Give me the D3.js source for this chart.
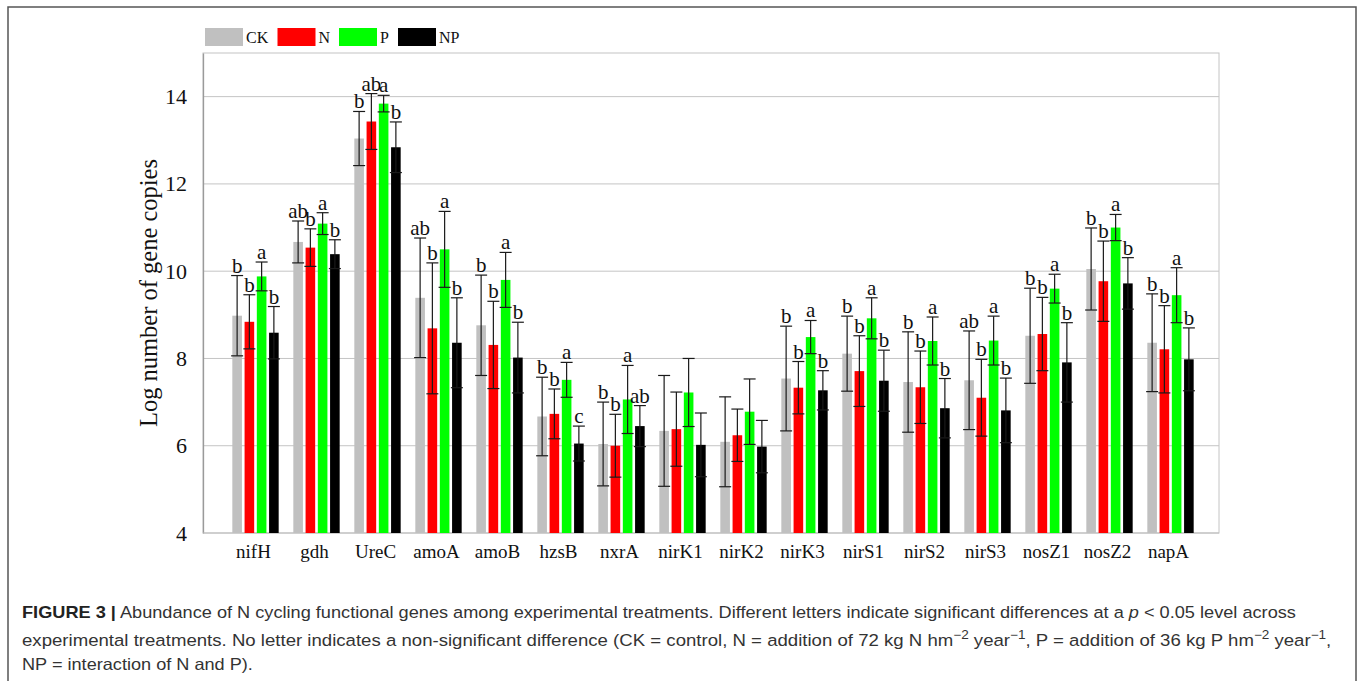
<!DOCTYPE html>
<html>
<head>
<meta charset="utf-8">
<script src="https://cdn.jsdelivr.net/npm/d3@7/dist/d3.min.js"></script>
<style>
  html, body { margin: 0; padding: 0; background: #fff; }
  svg { display: block; }
</style>
</head>
<body>
<svg id="fig" width="1360" height="681"></svg>
<script>
// Gene targets along the x axis
const genes = ["nifH", "gdh", "UreC", "amoA", "amoB", "hzsB", "nxrA", "nirK1", "nirK2",
               "nirK3", "nirS1", "nirS2", "nirS3", "nosZ1", "nosZ2", "napA"];
const treatments = ["CK", "N", "P", "NP"];
const treatmentColors = ["#c0c0c0", "#ff0000", "#00ff00", "#000000"];

// Mean log gene copies per treatment
const meanCK = [8.98, 10.67, 13.04, 9.39, 8.76, 6.67, 6.04, 6.34, 6.09, 7.54, 8.11, 7.46, 7.50, 8.52, 10.05, 8.36];
const meanN  = [8.84, 10.54, 13.43, 8.69, 8.31, 6.73, 6.00, 6.38, 6.24, 7.33, 7.71, 7.34, 7.10, 8.56, 9.77, 8.21];
const meanP  = [9.88, 11.09, 13.84, 10.50, 9.80, 7.51, 7.06, 7.22, 6.78, 8.49, 8.92, 8.40, 8.41, 9.60, 11.00, 9.45];
const meanNP = [8.59, 10.39, 12.84, 8.36, 8.02, 6.05, 6.45, 6.02, 5.98, 7.27, 7.49, 6.86, 6.81, 7.91, 9.72, 7.98];

// Standard deviations (error bars)
const sdCK = [0.92, 0.48, 0.62, 1.37, 1.15, 0.90, 0.96, 1.27, 1.03, 1.20, 0.86, 1.15, 1.13, 1.09, 0.94, 1.12];
const sdN  = [0.62, 0.43, 0.64, 1.50, 1.00, 0.57, 0.72, 0.85, 0.60, 0.60, 0.81, 0.83, 0.88, 0.84, 0.92, 1.00];
const sdP  = [0.33, 0.25, 0.19, 0.87, 0.63, 0.40, 0.78, 0.78, 0.75, 0.38, 0.47, 0.55, 0.56, 0.33, 0.30, 0.63];
const sdNP = [0.60, 0.33, 0.58, 1.03, 0.81, 0.40, 0.47, 0.73, 0.60, 0.45, 0.70, 0.68, 0.74, 0.91, 0.59, 0.72];

// Significance letters (empty = not significant)
const letCK = ["b", "ab", "b", "ab", "b", "b", "b", "", "", "b", "b", "b", "ab", "b", "b", "b"];
const letN  = ["b", "b", "ab", "b", "b", "b", "b", "", "", "b", "b", "b", "b", "b", "b", "b"];
const letP  = ["a", "a", "a", "a", "a", "a", "a", "", "", "a", "a", "a", "a", "a", "a", "a"];
const letNP = ["b", "b", "b", "b", "b", "c", "ab", "", "", "b", "b", "b", "b", "b", "b", "b"];

const yTicks = [4, 6, 8, 10, 12, 14];

const means = [meanCK, meanN, meanP, meanNP];
const sds = [sdCK, sdN, sdP, sdNP];
const letters = [letCK, letN, letP, letNP];

const svg = d3.select("#fig");
const serif = "'Liberation Serif', 'Times New Roman', serif";
const sans = "'Liberation Sans', Arial, sans-serif";

// Outer figure frame
svg.append("path")
  .attr("d", "M8,681 V7 H1356 V681")
  .attr("fill", "none").attr("stroke", "#555").attr("stroke-width", 1.5);

// Plot area
const plot = { left: 203, right: 1219, top: 53, bottom: 533 };

const y = d3.scaleLinear().domain([4, 15]).range([plot.bottom, plot.top]);
const x = d3.scaleBand().domain(genes).range([225, 1201]).paddingInner(0).paddingOuter(0);
const stride = 12.25, barW = 9.6;
const xSub = d3.scaleBand().domain(treatments)
  .range([-stride * 2, stride * 2]).paddingInner(0);

// Grid lines
svg.append("g").selectAll("line").data(yTicks.filter(t => t > 4))
  .join("line")
  .attr("x1", plot.left).attr("x2", plot.right)
  .attr("y1", d => y(d)).attr("y2", d => y(d))
  .attr("stroke", "#c4c4c4").attr("stroke-width", 1);

// Plot border
svg.append("rect")
  .attr("x", plot.left).attr("y", plot.top)
  .attr("width", plot.right - plot.left).attr("height", plot.bottom - plot.top)
  .attr("fill", "none").attr("stroke", "#c4c4c4").attr("stroke-width", 1);

// Y axis
const yAxis = d3.axisLeft(y).tickValues(yTicks).tickSize(0).tickPadding(16);
const gy = svg.append("g").attr("transform", `translate(${plot.left},0)`).call(yAxis);
gy.select(".domain").attr("stroke", "#9a9a9a").attr("stroke-width", 1.3);
gy.selectAll("text").attr("font-family", serif).attr("font-size", 22).attr("fill", "#111");

// X axis labels
const xAxis = d3.axisBottom(x).tickSize(0).tickPadding(12);
const gx = svg.append("g").attr("transform", `translate(-2,${plot.bottom})`).call(xAxis);
gx.select(".domain").attr("stroke", "#bdbdbd").attr("d", `M${plot.left + 2},0H${plot.right + 2}`);
gx.selectAll("text").attr("font-family", serif).attr("font-size", 19).attr("fill", "#111");

// Axis title
svg.append("text")
  .attr("transform", `translate(157,${(plot.top + plot.bottom) / 2}) rotate(-90)`)
  .attr("text-anchor", "middle")
  .attr("font-family", serif).attr("font-size", 24.5).attr("fill", "#111")
  .text("Log number of gene copies");

// Flatten records
const records = [];
genes.forEach((g, gi) => {
  treatments.forEach((t, ti) => {
    records.push({ gene: g, t, ti, mean: means[ti][gi], sd: sds[ti][gi], letter: letters[ti][gi] });
  });
});
const cx = d => x(d.gene) + x.bandwidth() / 2 + xSub(d.t) + stride / 2;

// Bars
svg.append("g").selectAll("rect").data(records).join("rect")
  .attr("x", d => cx(d) - barW / 2)
  .attr("width", barW)
  .attr("y", d => y(d.mean))
  .attr("height", d => y(4) - y(d.mean))
  .attr("fill", d => treatmentColors[d.ti]);

// Error bars
const eb = svg.append("g").attr("stroke", "#1a1a1a").attr("stroke-width", 1.2);
eb.selectAll("line.v").data(records).join("line").attr("class", "v")
  .attr("x1", cx).attr("x2", cx)
  .attr("y1", d => y(d.mean + d.sd)).attr("y2", d => y(d.mean - d.sd));
eb.selectAll("line.top").data(records).join("line").attr("class", "top")
  .attr("x1", d => cx(d) - 6).attr("x2", d => cx(d) + 6)
  .attr("y1", d => y(d.mean + d.sd)).attr("y2", d => y(d.mean + d.sd));
eb.selectAll("line.bot").data(records).join("line").attr("class", "bot")
  .attr("x1", d => cx(d) - 6).attr("x2", d => cx(d) + 6)
  .attr("y1", d => y(d.mean - d.sd)).attr("y2", d => y(d.mean - d.sd));

// Significance letters
svg.append("g").selectAll("text").data(records.filter(d => d.letter)).join("text")
  .attr("x", cx)
  .attr("y", d => y(d.mean + d.sd) - 3)
  .attr("text-anchor", "middle")
  .attr("font-family", serif).attr("font-size", 21).attr("fill", "#111")
  .text(d => d.letter);

// Legend
const legend = svg.append("g");
const legX = [205, 277.5, 339, 398];
treatments.forEach((t, i) => {
  legend.append("rect").attr("x", legX[i]).attr("y", 28).attr("width", 38).attr("height", 18)
    .attr("fill", treatmentColors[i]);
  legend.append("text").attr("x", legX[i] + 41).attr("y", 43)
    .attr("font-family", serif).attr("font-size", 16).attr("fill", "#111").text(t);
});

// Caption
const cap = svg.append("g").attr("font-family", sans).attr("font-size", 16.5).attr("fill", "#333");
function captionLine(yPos, parts, targetWidth) {
  const t = cap.append("text").attr("x", 0).attr("y", 0);
  parts.forEach(p => {
    const s = t.append("tspan").text(p.text);
    if (p.bold) s.attr("font-weight", "bold").attr("fill", "#222");
    if (p.italic) s.attr("font-style", "italic");
    if (p.sup) s.attr("font-size", 12).attr("dy", -7);
    if (p.down) s.attr("dy", 7);
  });
  const w = t.node().getComputedTextLength();
  const k = targetWidth ? targetWidth / w : 1;
  t.attr("transform", `translate(22,${yPos}) scale(${k},1)`);
}
captionLine(618, [
  { text: "FIGURE 3 |", bold: true },
  { text: " Abundance of N cycling functional genes among experimental treatments. Different letters indicate significant differences at a " },
  { text: "p", italic: true },
  { text: " < 0.05 level across" }
], 1275);
captionLine(646, [
  { text: "experimental treatments. No letter indicates a non-significant difference (CK = control, N = addition of 72 kg N hm" },
  { text: "−2", sup: true },
  { text: " year", down: true },
  { text: "−1", sup: true },
  { text: ", P = addition of 36 kg P hm", down: true },
  { text: "−2", sup: true },
  { text: " year", down: true },
  { text: "−1", sup: true },
  { text: ",", down: true }
], 1310);
captionLine(670, [
  { text: "NP = interaction of N and P)." }
], 231);
</script>
</body>
</html>
